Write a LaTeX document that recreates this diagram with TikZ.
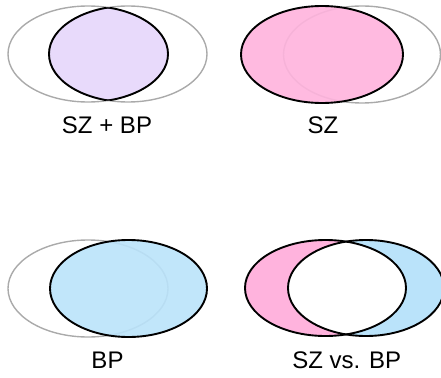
\documentclass[tikz,border=0pt]{standalone}
\usepackage{fontspec}
\setmainfont{Liberation Sans}
\definecolor{lav}{HTML}{E8DAFB}
\definecolor{pinkf}{HTML}{FFB3DD}
\definecolor{bluef}{HTML}{BAE3FA}
\definecolor{grayl}{HTML}{AAAAAA}
\begin{document}
\begin{tikzpicture}[x=1pt,y=-1pt,
  ghost/.style={draw=grayl,line width=1.4pt},
  bold/.style={draw=black,line width=1.9pt},
  lab/.style={font=\fontsize{24}{27}\selectfont,inner sep=0pt,anchor=center}]
\useasboundingbox (0,0) rectangle (441,377);
% Panel 1: SZ + BP
\draw[ghost] (88,54) ellipse [x radius=80,y radius=48];
\draw[ghost] (128,54) ellipse [x radius=79,y radius=48];
\begin{scope}
  \clip (88,54) ellipse [x radius=80,y radius=48];
  \fill[lav] (128,54) ellipse [x radius=79,y radius=48];
  \draw[bold] (128,54) ellipse [x radius=79,y radius=48];
\end{scope}
\begin{scope}
  \clip (128,54) ellipse [x radius=79,y radius=48];
  \draw[bold] (88,54) ellipse [x radius=80,y radius=48];
\end{scope}
\node[lab] (l1) at (107,125.5) {SZ + BP};
% Panel 2: SZ
\draw[ghost] (362,54.5) ellipse [x radius=78.5,y radius=48.5];
\fill[pinkf,fill opacity=0.9] (322,54.5) ellipse [x radius=81,y radius=48.5];
\draw[bold] (322,54.5) ellipse [x radius=81,y radius=48.5];
\node[lab] (l2) at (323,125.5) {SZ};
% Panel 3: BP
\draw[ghost] (88,288.5) ellipse [x radius=80,y radius=48.5];
\fill[bluef,fill opacity=0.9] (128.5,288.5) ellipse [x radius=78.5,y radius=48.5];
\draw[bold] (128.5,288.5) ellipse [x radius=78.5,y radius=48.5];
\node[lab] (l3) at (107.5,360) {BP};
% Panel 4: SZ vs. BP
\fill[pinkf] (325.5,288) ellipse [x radius=80.5,y radius=48];
\fill[bluef] (366,288) ellipse [x radius=78,y radius=48];
\begin{scope}
  \clip (325.5,288) ellipse [x radius=80.5,y radius=48];
  \fill[white] (366,288) ellipse [x radius=78,y radius=48];
\end{scope}
\draw[bold] (325.5,288) ellipse [x radius=80.5,y radius=48];
\draw[bold] (366,288) ellipse [x radius=78,y radius=48];
\node[lab] (l4) at (346.7,360) {SZ vs. BP};
\end{tikzpicture}
\end{document}
